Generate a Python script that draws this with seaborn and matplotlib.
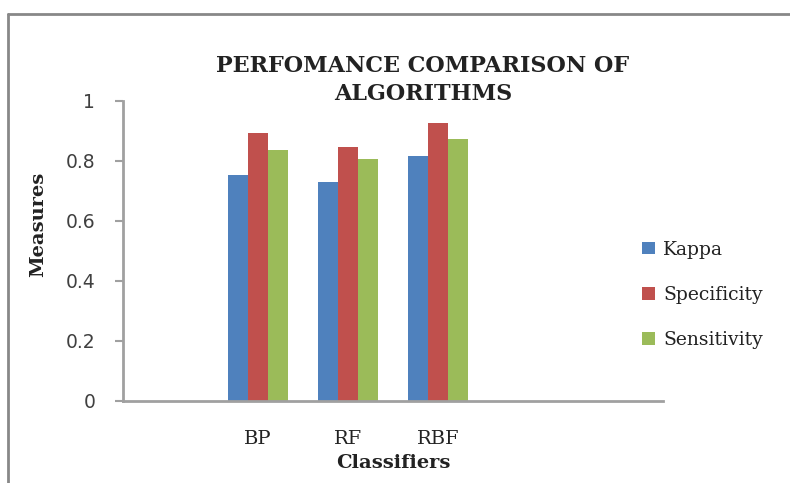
import pandas as pd
import matplotlib.pyplot as plt
import seaborn as sns
from matplotlib.lines import Line2D

# DADOS DO GRAFICO
classificadores = ['BP', 'RF', 'RBF']
medidas = ['Kappa', 'Specificity', 'Sensitivity']
kappa = [0.754, 0.730, 0.817]
specificity = [0.894, 0.847, 0.926]
sensitivity = [0.838, 0.807, 0.873]
cores = ['#4F81BD', '#C0504D', '#9BBB59']

# MONTANDO O DATAFRAME EM FORMATO LONGO
df = pd.DataFrame({
    'Classifier': classificadores * 3,
    'Measure': [m for m in medidas for _ in classificadores],
    'Value': kappa + specificity + sensitivity,
})

sns.set_theme(style="white")
plt.rcParams['font.family'] = ['DejaVu Serif']

fig = plt.figure(figsize=(7.9, 4.83), dpi=100)
ax = fig.add_axes([123 / 790, 1 - 401 / 483, 540 / 790, 300 / 483])

sns.barplot(data=df, x='Classifier', y='Value', hue='Measure',
            hue_order=medidas, palette=cores, width=0.67,
            saturation=1, ax=ax, linewidth=0)

# EIXOS NO ESTILO EXCEL
ax.set_xlim(-1.5, 4.5)
ax.set_ylim(0, 1)
ax.set_yticks([0, 0.2, 0.4, 0.6, 0.8, 1.0])
ax.set_yticklabels(['0', '0.2', '0.4', '0.6', '0.8', '1'],
                   fontfamily='DejaVu Sans', fontsize=13.5, color='#404040')
ax.tick_params(axis='y', left=True, length=6, width=1.5, color='#a0a0a0', pad=14)
ax.tick_params(axis='x', bottom=False, labelsize=14, pad=15, labelcolor='#222222')
for s in ['top', 'right']:
    ax.spines[s].set_visible(False)
for s in ['left', 'bottom']:
    ax.spines[s].set_color('#a0a0a0')
    ax.spines[s].set_linewidth(2)

ax.set_xlabel('Classifiers', fontsize=14, fontweight='bold', color='#222222')
ax.set_ylabel('Measures', fontsize=14, fontweight='bold', color='#222222')
ax.xaxis.set_label_coords(0.5, -0.175)
ax.yaxis.set_label_coords(-0.141, 0.59)

fig.text(423 / 790, 1 - 80 / 483, 'PERFOMANCE COMPARISON OF\nALGORITHMS',
         ha='center', va='center', fontsize=16, fontweight='bold',
         color='#222222', linespacing=1.35)

leg = ax.legend(loc='center left', bbox_to_anchor=(633 / 790, 1 - 295 / 483),
                bbox_transform=fig.transFigure, frameon=False, fontsize=13.5,
                handlelength=0.65, handleheight=0.65, handletextpad=0.45,
                labelspacing=1.45, borderpad=0, title=None)
for t in leg.get_texts():
    t.set_color('#222222')

# MOLDURA DA FIGURA
fig.add_artist(Line2D([8 / 790, 8 / 790], [0, 1 - 14 / 483], color='#888888', lw=2))
fig.add_artist(Line2D([8 / 790, 1], [1 - 14 / 483, 1 - 14 / 483], color='#888888', lw=2))

plt.savefig('out.png', dpi=100)
